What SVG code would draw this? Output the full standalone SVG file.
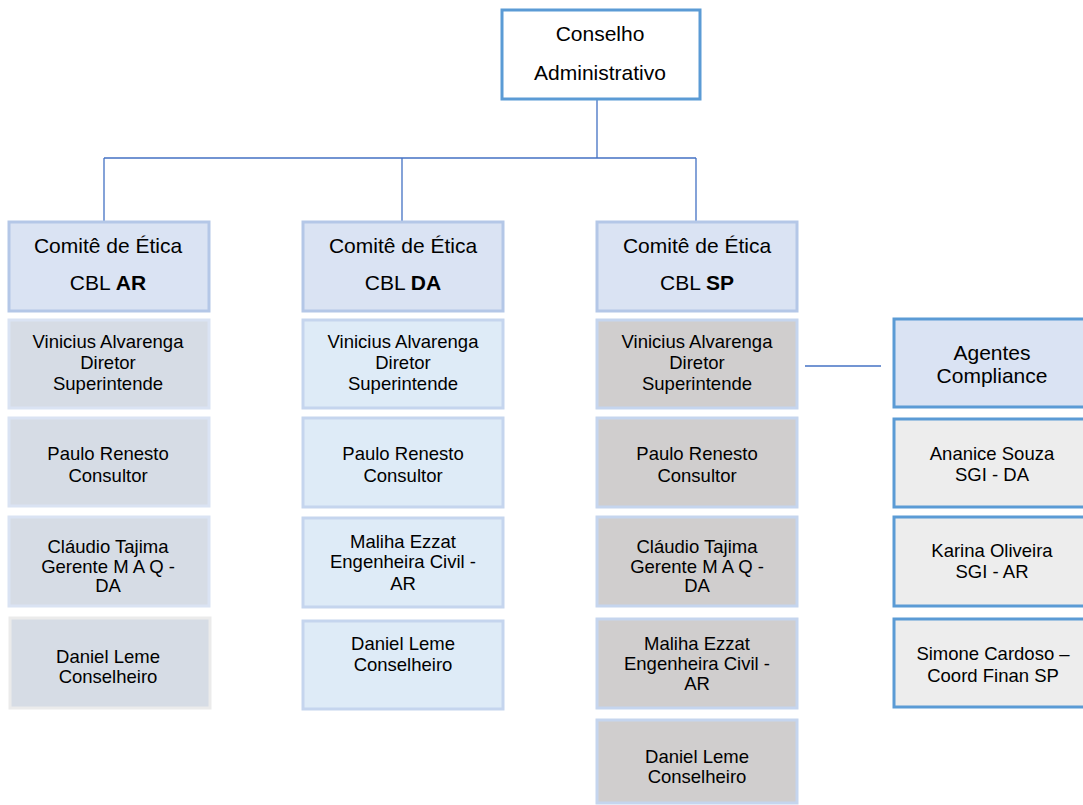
<svg xmlns="http://www.w3.org/2000/svg" width="1083" height="805" viewBox="0 0 1083 805">
  <style>
    text { font-family: "Liberation Sans", Arial, sans-serif; fill: #000; text-anchor: middle; }
    .hd { font-size: 21px; }
    .it { font-size: 18.5px; }
    .top { fill: #ffffff; stroke: #5b9bd5; stroke-width: 3; }
    .head { fill: #dae3f3; stroke: #b4c7e7; stroke-width: 3; }
    .c1 { fill: #d6dce5; stroke: #dae3f3; stroke-width: 3; }
    .c1b { fill: #d6dce5; stroke: #ebebeb; stroke-width: 3; }
    .c2 { fill: #deebf7; stroke: #c5d5ee; stroke-width: 3; }
    .c3 { fill: #d0cece; stroke: #c5d5ee; stroke-width: 3; }
    .ag { fill: #dae3f3; stroke: #5b9bd5; stroke-width: 3; }
    .agi { fill: #ededed; stroke: #5b9bd5; stroke-width: 3; }
    .con { stroke: #4472c4; stroke-width: 1.3; fill: none; }
  </style>

  <!-- connectors -->
  <g id="connectors">
    <path class="con" d="M597 99 V158 M104 158 H696 M104 158 V222 M402 158 V222 M696 158 V222"/>
    <path class="con" d="M805 366 H881"/>
  </g>

  <!-- board -->
  <g id="conselho">
    <rect class="top" x="502" y="10" width="198" height="89"/>
    <text class="hd" x="600" y="41">Conselho</text>
    <text class="hd" x="600" y="80">Administrativo</text>
  </g>

  <!-- column AR -->
  <g id="comite-ar">
    <rect class="head" x="9" y="222" width="200" height="89"/>
    <text class="hd" x="108" y="253">Comitê de Ética</text>
    <text class="hd" x="108" y="290">CBL <tspan font-weight="bold">AR</tspan></text>
  </g>
  <g id="ar-vinicius">
    <rect class="c1" x="9" y="320" width="200" height="88"/>
    <text class="it" x="108" y="348">Vinicius Alvarenga</text>
    <text class="it" x="108" y="369">Diretor</text>
    <text class="it" x="108" y="390">Superintende</text>
  </g>
  <g id="ar-paulo">
    <rect class="c1" x="9" y="418" width="200" height="88"/>
    <text class="it" x="108" y="460">Paulo Renesto</text>
    <text class="it" x="108" y="482">Consultor</text>
  </g>
  <g id="ar-claudio">
    <rect class="c1" x="9" y="517" width="200" height="89"/>
    <text class="it" x="108" y="553">Cláudio Tajima</text>
    <text class="it" x="108" y="573">Gerente M A Q -</text>
    <text class="it" x="108" y="592">DA</text>
  </g>
  <g id="ar-daniel">
    <rect class="c1b" x="10" y="618" width="200" height="90"/>
    <text class="it" x="108" y="663">Daniel Leme</text>
    <text class="it" x="108" y="683">Conselheiro</text>
  </g>

  <!-- column DA -->
  <g id="comite-da">
    <rect class="head" x="303" y="222" width="200" height="89"/>
    <text class="hd" x="403" y="253">Comitê de Ética</text>
    <text class="hd" x="403" y="290">CBL <tspan font-weight="bold">DA</tspan></text>
  </g>
  <g id="da-vinicius">
    <rect class="c2" x="303" y="320" width="200" height="88"/>
    <text class="it" x="403" y="348">Vinicius Alvarenga</text>
    <text class="it" x="403" y="369">Diretor</text>
    <text class="it" x="403" y="390">Superintende</text>
  </g>
  <g id="da-paulo">
    <rect class="c2" x="303" y="418" width="200" height="89"/>
    <text class="it" x="403" y="460">Paulo Renesto</text>
    <text class="it" x="403" y="482">Consultor</text>
  </g>
  <g id="da-maliha">
    <rect class="c2" x="303" y="518" width="200" height="89"/>
    <text class="it" x="403" y="548">Maliha Ezzat</text>
    <text class="it" x="403" y="568">Engenheira Civil -</text>
    <text class="it" x="403" y="590">AR</text>
  </g>
  <g id="da-daniel">
    <rect class="c2" x="303" y="621" width="200" height="88"/>
    <text class="it" x="403" y="650">Daniel Leme</text>
    <text class="it" x="403" y="671">Conselheiro</text>
  </g>

  <!-- column SP -->
  <g id="comite-sp">
    <rect class="head" x="597" y="222" width="200" height="89"/>
    <text class="hd" x="697" y="253">Comitê de Ética</text>
    <text class="hd" x="697" y="290">CBL <tspan font-weight="bold">SP</tspan></text>
  </g>
  <g id="sp-vinicius">
    <rect class="c3" x="597" y="320" width="200" height="88"/>
    <text class="it" x="697" y="348">Vinicius Alvarenga</text>
    <text class="it" x="697" y="369">Diretor</text>
    <text class="it" x="697" y="390">Superintende</text>
  </g>
  <g id="sp-paulo">
    <rect class="c3" x="597" y="418" width="200" height="89"/>
    <text class="it" x="697" y="460">Paulo Renesto</text>
    <text class="it" x="697" y="482">Consultor</text>
  </g>
  <g id="sp-claudio">
    <rect class="c3" x="597" y="517" width="200" height="89"/>
    <text class="it" x="697" y="553">Cláudio Tajima</text>
    <text class="it" x="697" y="573">Gerente M A Q -</text>
    <text class="it" x="697" y="592">DA</text>
  </g>
  <g id="sp-maliha">
    <rect class="c3" x="597" y="619" width="200" height="89"/>
    <text class="it" x="697" y="650">Maliha Ezzat</text>
    <text class="it" x="697" y="670">Engenheira Civil -</text>
    <text class="it" x="697" y="690">AR</text>
  </g>
  <g id="sp-daniel">
    <rect class="c3" x="597" y="720" width="200" height="83"/>
    <text class="it" x="697" y="763">Daniel Leme</text>
    <text class="it" x="697" y="783">Conselheiro</text>
  </g>

  <!-- compliance agents -->
  <g id="agentes">
    <rect class="ag" x="894" y="319" width="200" height="88"/>
    <text class="hd" x="992" y="360">Agentes</text>
    <text class="hd" x="992" y="383">Compliance</text>
  </g>
  <g id="ag-ananice">
    <rect class="agi" x="894" y="419" width="200" height="88"/>
    <text class="it" x="992" y="460">Ananice Souza</text>
    <text class="it" x="992" y="481">SGI - DA</text>
  </g>
  <g id="ag-karina">
    <rect class="agi" x="894" y="517" width="200" height="89"/>
    <text class="it" x="992" y="557">Karina Oliveira</text>
    <text class="it" x="992" y="578">SGI - AR</text>
  </g>
  <g id="ag-simone">
    <rect class="agi" x="894" y="619" width="200" height="88"/>
    <text class="it" x="993" y="660">Simone Cardoso –</text>
    <text class="it" x="993" y="682">Coord Finan SP</text>
  </g>
</svg>
